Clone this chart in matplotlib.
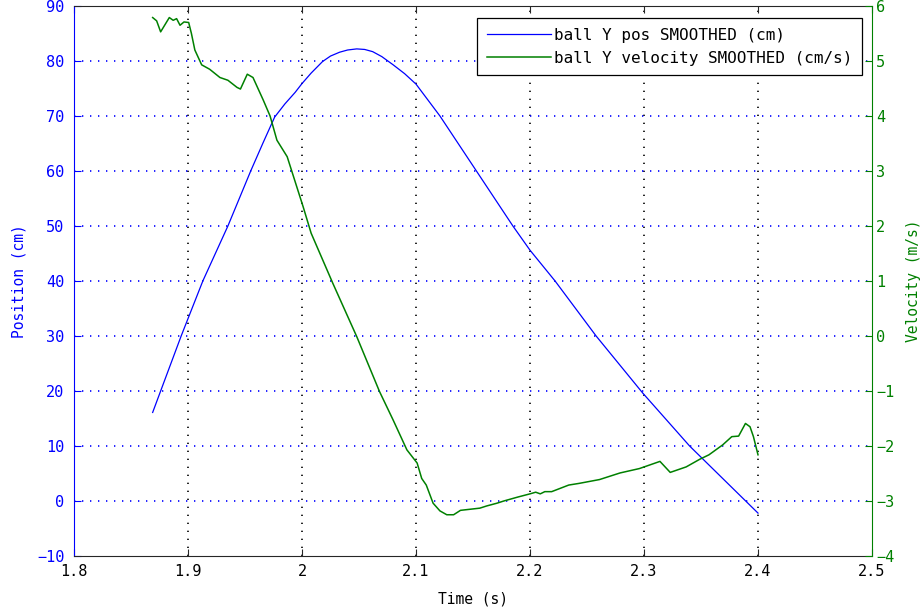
import matplotlib
matplotlib.use("Agg")
import matplotlib.pyplot as plt

plt.rcParams['font.family'] = ['DejaVu Sans Mono']

# Position series (time s, position cm)
t_pos = [1.869, 1.876, 1.894, 1.913, 1.935, 1.955, 1.966, 1.976, 1.985, 1.994,
         2.000, 2.008, 2.018, 2.025, 2.033, 2.040, 2.048, 2.055, 2.062, 2.070,
         2.080, 2.090, 2.100, 2.121, 2.153, 2.185, 2.200, 2.222, 2.258, 2.299,
         2.340, 2.400]
pos = [16.1, 20, 30, 40, 50, 60, 65.2, 69.8, 72.2, 74.3,
       75.9, 77.8, 79.9, 80.9, 81.6, 82.0, 82.2, 82.1, 81.7, 80.8,
       79.3, 77.7, 75.8, 70, 60, 50, 45.6, 40, 30, 19.6,
       10, -2.2]

# Velocity series (time s, velocity m/s)
t_vel = [1.869, 1.8725, 1.876, 1.8836, 1.887, 1.890, 1.893, 1.8965, 1.9006, 1.903,
         1.906, 1.912, 1.919, 1.928, 1.935, 1.943, 1.946, 1.952, 1.957, 1.966,
         1.972, 1.978, 1.987, 2.001, 2.008, 2.027, 2.048, 2.068, 2.080, 2.092,
         2.101, 2.105, 2.109, 2.115, 2.121, 2.127, 2.133, 2.139, 2.156, 2.162,
         2.171, 2.177, 2.189, 2.200, 2.205, 2.209, 2.213, 2.219, 2.234, 2.243,
         2.261, 2.279, 2.296, 2.314, 2.323, 2.337, 2.349, 2.357, 2.369, 2.377,
         2.383, 2.389, 2.393, 2.396, 2.400]
vel = [5.79, 5.73, 5.53, 5.79, 5.74, 5.77, 5.65, 5.71, 5.70, 5.50,
       5.20, 4.93, 4.85, 4.70, 4.65, 4.52, 4.49, 4.76, 4.70, 4.29,
       4.00, 3.56, 3.26, 2.35, 1.87, 0.96, -0.01, -1.01, -1.53, -2.07,
       -2.31, -2.59, -2.71, -3.04, -3.18, -3.25, -3.25, -3.17, -3.13, -3.09,
       -3.04, -3.00, -2.93, -2.87, -2.84, -2.87, -2.83, -2.83, -2.71, -2.68,
       -2.61, -2.49, -2.41, -2.28, -2.48, -2.38, -2.24, -2.16, -1.98, -1.83,
       -1.82, -1.59, -1.65, -1.83, -2.16]

x_ticks = [1.8, 1.9, 2.0, 2.1, 2.2, 2.3, 2.4, 2.5]
x_ticklabels = ['1.8', '1.9', '2', '2.1', '2.2', '2.3', '2.4', '2.5']
pos_ticks = list(range(-10, 91, 10))
vel_ticks = list(range(-4, 7, 1))

BLUE = (0, 0, 1)
GREEN = (0, 0.5, 0)
DARK = '#262626'

fig = plt.figure(figsize=(9.24, 6.15), dpi=100)
ax = fig.add_axes([74/924, 1-556/615, 798/924, 550/615])
ax2 = ax.twinx()

l1, = ax.plot(t_pos, pos, color=BLUE, lw=0.9, label='ball Y pos SMOOTHED (cm)')
l2, = ax2.plot(t_vel, vel, color=GREEN, lw=1.1, label='ball Y velocity SMOOTHED (cm/s)')

ax.set_xlim(1.8, 2.5)
ax.set_ylim(-10, 90)
ax2.set_ylim(-4, 6)
ax.set_xticks(x_ticks)
ax.set_xticklabels(x_ticklabels)
ax.set_yticks(pos_ticks)
ax2.set_yticks(vel_ticks)

dot = (0, (0.8, 4.0))
ax.xaxis.grid(True, color='black', linestyle=dot, lw=1.2)
ax.yaxis.grid(True, color=BLUE, linestyle=dot, lw=1.2)
ax.set_axisbelow(True)

# no dotted grid lines on top of the axes box edges
for ticks in (ax.xaxis.get_major_ticks(), ax.yaxis.get_major_ticks()):
    ticks[0].gridline.set_visible(False)
    ticks[-1].gridline.set_visible(False)

ax.tick_params(axis='x', direction='in', length=5, top=True, bottom=True,
               colors=DARK, labelcolor='black', labelsize=11, pad=6)
ax.tick_params(axis='y', direction='in', length=5, left=True, right=False,
               colors=BLUE, labelcolor=BLUE, labelsize=11, pad=7)
ax2.tick_params(axis='y', direction='in', length=5, right=True, left=False,
                colors=GREEN, labelcolor=GREEN, labelsize=11, pad=3)

for s in ['top', 'bottom']:
    ax.spines[s].set_color(DARK)
    ax2.spines[s].set_visible(False)
ax.spines['left'].set_color(BLUE)
ax.spines['right'].set_visible(False)
ax2.spines['left'].set_visible(False)
ax2.spines['right'].set_color(GREEN)

ax.set_xlabel('Time (s)', fontsize=10.5, color='black')
ax.xaxis.set_label_coords(0.5, -0.064)
ax.set_ylabel('Position (cm)', fontsize=10.5, color=BLUE)
ax.yaxis.set_label_coords(-0.06, 0.5)
ax2.set_ylabel('Velocity (m/s)', fontsize=10.5, color=GREEN)
ax2.yaxis.set_label_coords(1.043, 0.5)

leg = ax2.legend(handles=[l1, l2], loc='upper right',
                 bbox_to_anchor=(862/924, 1-18/615), bbox_transform=fig.transFigure,
                 borderaxespad=0, fancybox=False, framealpha=1, edgecolor='black',
                 fontsize=11.5, handlelength=4.0, handletextpad=0.2,
                 borderpad=0.6, labelspacing=0.5)
leg.get_frame().set_linewidth(0.9)

fig.savefig('out.png', dpi=100)
